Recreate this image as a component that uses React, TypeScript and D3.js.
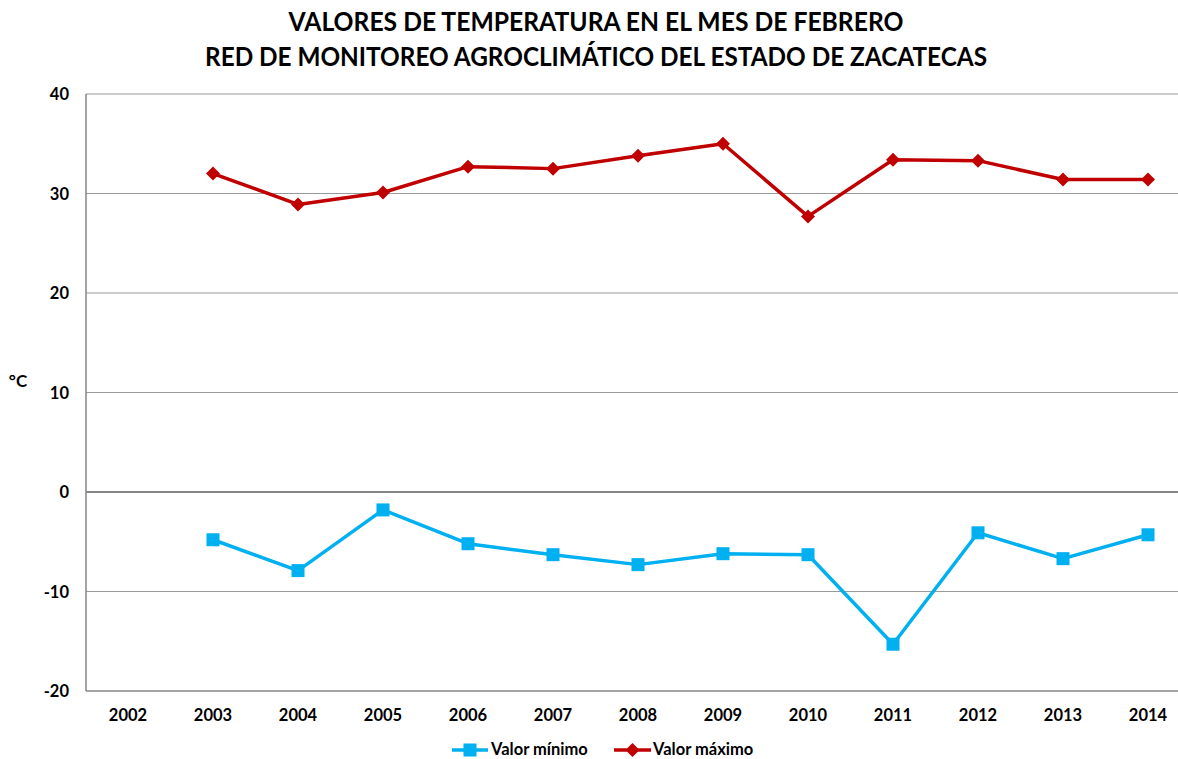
import React from "react";
import * as d3 from "d3";

const years = ["2002","2003","2004","2005","2006","2007","2008","2009","2010","2011","2012","2013","2014"];
const minValues: (number | null)[] = [null, -4.8, -7.9, -1.8, -5.2, -6.3, -7.3, -6.2, -6.3, -15.3, -4.1, -6.7, -4.3];
const maxValues: (number | null)[] = [null, 32.0, 28.9, 30.1, 32.7, 32.5, 33.8, 35.0, 27.7, 33.4, 33.3, 31.4, 31.4];
const yTicks = [-20, -10, 0, 10, 20, 30, 40];
const titleLines = ["VALORES DE TEMPERATURA EN EL MES DE FEBRERO", "RED DE MONITOREO AGROCLIMÁTICO DEL ESTADO DE ZACATECAS"];
const seriesNames = ["Valor mínimo", "Valor máximo"];

const W = 1178, H = 759;
const font = "Lato, 'Open Sans', 'Noto Sans', sans-serif";

export default function App() {
  const x = d3.scaleBand().domain(years).range([85.5, 1190.5]);
  const y = d3.scaleLinear().domain([-20, 40]).range([691, 94]);
  const cx = (yr: string) => (x(yr) as number) + x.bandwidth() / 2;
  const line = d3.line<[string, number | null]>()
    .defined(d => d[1] !== null)
    .x(d => cx(d[0]))
    .y(d => y(d[1] as number));
  const minPts = years.map((yr, i) => [yr, minValues[i]] as [string, number | null]);
  const maxPts = years.map((yr, i) => [yr, maxValues[i]] as [string, number | null]);
  const blue = "#00B0F0", red = "#C00000";
  const diamond = (px: number, py: number, r: number) => `M${px},${py - r}L${px + r},${py}L${px},${py + r}L${px - r},${py}Z`;
  const titleW = [615, 782];

  return (
    <svg width={W} height={H} style={{ position: "absolute", left: 0, top: 0, background: "#fff" }} fontFamily={font}>
      {titleLines.map((t, i) => (
        <text key={i} x={596} y={31 + i * 35} textAnchor="middle" fontSize={27} fontWeight="bold" fill="#000"
          textLength={titleW[i]} lengthAdjust="spacingAndGlyphs">{t}</text>
      ))}
      {/* gridlines */}
      {yTicks.filter(t => t !== 0 && t !== -20).map(t => (
        <line key={t} x1={86} x2={W} y1={y(t)} y2={y(t)} stroke="#9a9a9a" strokeWidth={1.2} />
      ))}
      <line x1={86} x2={W} y1={y(0)} y2={y(0)} stroke="#868686" strokeWidth={2} />
      <line x1={86} x2={W} y1={y(-20)} y2={y(-20)} stroke="#868686" strokeWidth={1.5} />
      <line x1={86} x2={86} y1={y(40)} y2={y(-20)} stroke="#868686" strokeWidth={1.5} />
      {yTicks.map(t => (
        <text key={t} x={69} y={y(t) + 6} textAnchor="end" fontSize={16.5} fontWeight="bold">{t}</text>
      ))}
      {years.map(yr => (
        <text key={yr} x={cx(yr)} y={721} textAnchor="middle" fontSize={16.5} fontWeight="bold">{yr}</text>
      ))}
      <text x={18} y={387} textAnchor="middle" fontSize={17} fontWeight="bold">°C</text>
      {/* series */}
      <path d={line(minPts) || ""} fill="none" stroke={blue} strokeWidth={3.5} strokeLinejoin="round" />
      {minPts.filter(d => d[1] !== null).map(d => (
        <rect key={d[0]} x={cx(d[0]) - 6.5} y={y(d[1] as number) - 6.5} width={13} height={13} fill={blue} />
      ))}
      <path d={line(maxPts) || ""} fill="none" stroke={red} strokeWidth={3.5} strokeLinejoin="round" />
      {maxPts.filter(d => d[1] !== null).map(d => (
        <path key={d[0]} d={diamond(cx(d[0]), y(d[1] as number), 7)} fill={red} />
      ))}
      {/* legend */}
      <g>
        <line x1={452} x2={488} y1={750} y2={750} stroke={blue} strokeWidth={3.5} />
        <rect x={463.5} y={743.5} width={13} height={13} fill={blue} />
        <text x={491} y={755} fontSize={16.5} fontWeight="bold">{seriesNames[0]}</text>
        <line x1={614} x2={651} y1={750} y2={750} stroke={red} strokeWidth={3.5} />
        <path d={diamond(632.5, 750, 7)} fill={red} />
        <text x={653} y={755} fontSize={16.5} fontWeight="bold">{seriesNames[1]}</text>
      </g>
    </svg>
  );
}
